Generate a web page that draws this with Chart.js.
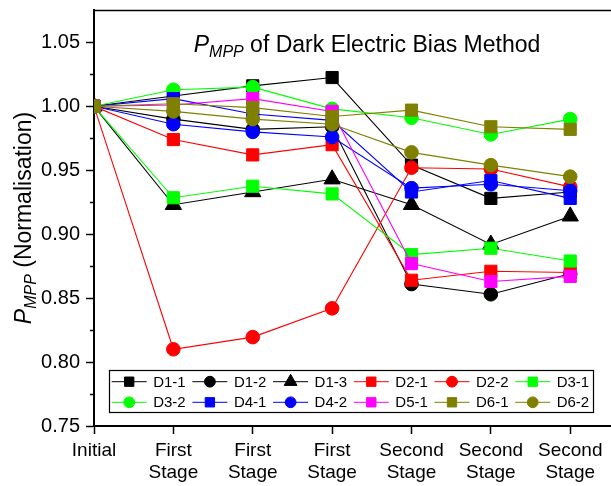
<!DOCTYPE html>
<html>
<head>
<meta charset="utf-8">
<title>PMPP of Dark Electric Bias Method</title>
<script src="https://cdn.jsdelivr.net/npm/chart.js@4.4.1/dist/chart.umd.min.js"></script>
<style>
  html, body { margin: 0; padding: 0; background: #fff; }
  #wrap { width: 611px; height: 486px; overflow: hidden; }
  canvas { display: block; }
</style>
</head>
<body>
<div id="wrap"><canvas id="pmppChart" width="660" height="486"></canvas></div>
<script>
// measurement steps along x
const steps = [0, 1, 2, 3, 4, 5, 6];
const stepLabels = ['Initial', ['First', 'Stage'], ['First', 'Stage'], ['First', 'Stage'],
  ['Second', 'Stage'], ['Second', 'Stage'], ['Second', 'Stage']];
const yTicks = [0.75, 0.80, 0.85, 0.90, 0.95, 1.00, 1.05];
const yMinorTicks = [0.775, 0.825, 0.875, 0.925, 0.975, 1.025];

// normalised PMPP per device
const d1_1 = [1.000, 1.008, 1.016, 1.0225, 0.954, 0.928, 0.933];
const d1_2 = [1.000, 0.990, 0.982, 0.984, 0.861, 0.853, 0.869];
const d1_3 = [1.000, 0.923, 0.933, 0.943, 0.923, 0.892, 0.914];
const d2_1 = [1.000, 0.974, 0.962, 0.970, 0.864, 0.871, 0.870];
const d2_2 = [1.000, 0.810, 0.8195, 0.842, 0.952, 0.951, 0.937];
const d3_1 = [1.000, 0.9285, 0.9375, 0.9315, 0.884, 0.889, 0.879];
const d3_2 = [1.000, 1.013, 1.015, 0.998, 0.991, 0.978, 0.990];
const d4_1 = [1.000, 1.006, 0.994, 0.989, 0.933, 0.942, 0.928];
const d4_2 = [1.000, 0.986, 0.980, 0.976, 0.936, 0.939, 0.934];
const d5_1 = [1.000, 1.001, 1.006, 0.996, 0.877, 0.863, 0.867];
const d6_1 = [1.000, 1.002, 0.999, 0.992, 0.997, 0.984, 0.982];
const d6_2 = [1.000, 0.996, 0.990, 0.986, 0.964, 0.954, 0.945];

const seriesNames = ['D1-1', 'D1-2', 'D1-3', 'D2-1', 'D2-2', 'D3-1', 'D3-2', 'D4-1', 'D4-2', 'D5-1', 'D6-1', 'D6-2'];
const seriesValues = [d1_1, d1_2, d1_3, d2_1, d2_2, d3_1, d3_2, d4_1, d4_2, d5_1, d6_1, d6_2];

// styles
const seriesColors = ['#000000', '#000000', '#000000', '#ff0000', '#ff0000', '#00ff00',
  '#00ff00', '#0000ff', '#0000ff', '#ff00ff', '#808000', '#808000'];
const seriesMarkers = ['rect', 'circle', 'triangle', 'rect', 'circle', 'rect',
  'circle', 'rect', 'circle', 'rect', 'rect', 'circle'];
const markerRadius = { rect: 8.6, circle: 6.8, triangle: 9.4 };
const legendRadius = { rect: 6.6, circle: 5.4, triangle: 7.4 };

const FONT = "'Liberation Sans', Arial, sans-serif";
Chart.defaults.font.family = FONT;
Chart.defaults.color = '#000';

function partsWidth(ctx, parts) {
  let w = 0;
  parts.forEach(p => { ctx.font = p.font; w += ctx.measureText(p.text).width; });
  return w;
}
function drawParts(ctx, parts, x, y) {
  parts.forEach(p => {
    ctx.font = p.font;
    ctx.fillText(p.text, x, y + p.dy);
    x += ctx.measureText(p.text).width;
  });
}

// titles with italic P and subscript MPP, minor ticks, top frame, legend
const decorPlugin = {
  id: 'decor',
  afterDraw(chart) {
    const ctx = chart.ctx;
    const area = chart.chartArea;
    const yScale = chart.scales.y;
    ctx.save();
    ctx.strokeStyle = '#000';

    // top frame line
    ctx.lineWidth = 1.5;
    ctx.beginPath();
    ctx.moveTo(area.left, area.top);
    ctx.lineTo(area.right, area.top);
    ctx.stroke();

    // minor y ticks
    yMinorTicks.forEach(v => {
      const y = Math.round(yScale.getPixelForValue(v)) + 0.5;
      ctx.beginPath();
      ctx.moveTo(area.left - 4, y);
      ctx.lineTo(area.left, y);
      ctx.stroke();
    });

    ctx.fillStyle = '#000';
    ctx.textBaseline = 'alphabetic';
    ctx.textAlign = 'left';

    // chart title
    const titleParts = [
      { text: 'P', font: 'italic 23px ' + FONT, dy: 0 },
      { text: 'MPP', font: 'italic 16px ' + FONT, dy: 5 },
      { text: ' of Dark Electric Bias Method', font: '23px ' + FONT, dy: 0 }
    ];
    drawParts(ctx, titleParts, 367 - partsWidth(ctx, titleParts) / 2, 52);

    // y axis title
    const yParts = [
      { text: 'P', font: 'italic 23px ' + FONT, dy: 0 },
      { text: 'MPP', font: 'italic 16px ' + FONT, dy: 5 },
      { text: ' (Normalisation)', font: '23px ' + FONT, dy: 0 }
    ];
    ctx.save();
    ctx.translate(31, 218);
    ctx.rotate(-Math.PI / 2);
    drawParts(ctx, yParts, -partsWidth(ctx, yParts) / 2, 0);
    ctx.restore();

    // legend box
    const boxL = 109.5, boxT = 370.5, boxW = 484, boxH = 42;
    ctx.fillStyle = '#fff';
    ctx.fillRect(boxL, boxT, boxW, boxH);
    ctx.lineWidth = 1.2;
    ctx.strokeRect(boxL, boxT, boxW, boxH);
    ctx.font = '15px ' + FONT;
    ctx.textBaseline = 'middle';
    chart.data.datasets.forEach((ds, i) => {
      const col = i % 6, row = Math.floor(i / 6);
      const x0 = 111.7 + col * 80.7;
      const y0 = 381.7 + row * 20.6;
      ctx.strokeStyle = ds.borderColor;
      ctx.lineWidth = 1;
      ctx.beginPath();
      ctx.moveTo(x0, y0);
      ctx.lineTo(x0 + 35, y0);
      ctx.stroke();
      ctx.fillStyle = ds.borderColor;
      Chart.helpers.drawPoint(ctx, {
        pointStyle: ds.pointStyle, rotation: 0,
        radius: legendRadius[ds.pointStyle], borderWidth: 1
      }, x0 + 17.5, y0);
      ctx.fillStyle = '#000';
      ctx.fillText(ds.label, x0 + 41.5, y0 + 1);
    });
    ctx.restore();
  }
};

const datasets = seriesNames.map((name, i) => ({
  label: name,
  data: steps.map((s, j) => ({ x: s, y: seriesValues[i][j] })),
  borderColor: seriesColors[i],
  backgroundColor: seriesColors[i],
  pointBackgroundColor: seriesColors[i],
  pointBorderColor: seriesColors[i],
  pointBorderWidth: 1,
  pointStyle: seriesMarkers[i],
  pointRadius: markerRadius[seriesMarkers[i]],
  borderWidth: 1.1,
  tension: 0,
  clip: 0,
  order: seriesNames.length - i
}));

new Chart(document.getElementById('pmppChart'), {
  type: 'line',
  data: { datasets },
  plugins: [decorPlugin],
  options: {
    responsive: false,
    animation: false,
    layout: { padding: { left: 0, top: 8, right: 6, bottom: 0 } },
    plugins: {
      legend: { display: false },
      tooltip: { enabled: false },
      title: { display: false }
    },
    scales: {
      x: {
        type: 'linear',
        min: 0,
        max: 7,
        afterBuildTicks: s => { s.ticks = steps.map(v => ({ value: v })); },
        afterFit: s => { s.height = 60; s.paddingLeft = 0; s.paddingRight = 0; },
        ticks: {
          font: { size: 19 },
          padding: 5,
          maxRotation: 0,
          autoSkip: false,
          callback: v => stepLabels[v]
        },
        grid: { drawOnChartArea: false, drawTicks: true, tickLength: 8, color: '#000', tickWidth: 1.5 },
        border: { display: true, color: '#000', width: 2 }
      },
      y: {
        min: 0.75,
        max: 1.075,
        afterBuildTicks: s => { s.ticks = yTicks.map(v => ({ value: v })); },
        afterFit: s => { s.width = 94; s.paddingTop = 0; s.paddingBottom = 0; },
        ticks: {
          font: { size: 20 },
          padding: 6,
          callback: v => v.toFixed(2)
        },
        grid: { drawOnChartArea: false, drawTicks: true, tickLength: 8, color: '#000', tickWidth: 1.5 },
        border: { display: true, color: '#000', width: 2 }
      }
    }
  }
});
</script>
</body>
</html>
